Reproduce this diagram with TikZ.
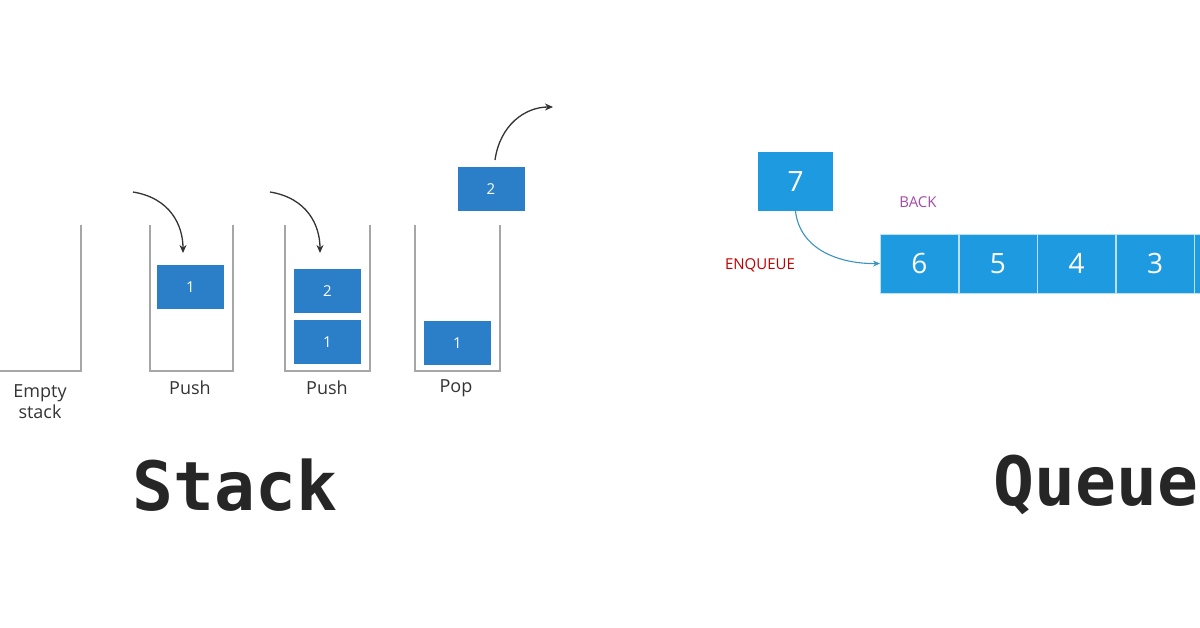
\documentclass[tikz,border=0pt]{standalone}
\usepackage{fontspec}
\setmainfont{Open Sans}
\newfontfamily\monof{DejaVu Sans Mono}
\usetikzlibrary{arrows.meta}
\begin{document}
\begin{tikzpicture}[x=1pt,y=-1pt,
 wall/.style={draw=gray!70,line width=1.5pt},
 sb/.style={fill=sbc,draw=none,minimum width=67pt,minimum height=44pt,text=white,font=\fontsize{15}{15}\selectfont,inner sep=0},
 qc/.style={fill=qbc,draw=white!70!qbc,line width=0.6pt,minimum width=78pt,minimum height=59pt,text=white,font=\fontsize{28}{28}\selectfont,inner sep=0,anchor=west},
 arr/.style={-{Stealth[length=8pt,width=7pt]},line width=1.3pt,black!80},
 lab/.style={font=\fontsize{18}{21}\selectfont,text=black!80,align=center}]
\definecolor{sbc}{HTML}{2B7FC9}
\definecolor{qbc}{HTML}{1E9BE0}
\useasboundingbox (0,0) rectangle (1200,628);
% stacks
\draw[wall] (0,371) -- (81,371) -- (81,225);
\draw[wall] (150,225) -- (150,371) -- (233,371) -- (233,225);
\draw[wall] (285,225) -- (285,371) -- (370,371) -- (370,225);
\draw[wall] (415,225) -- (415,371) -- (500,371) -- (500,225);
\node[sb] (a1) at (190.5,287) {1};
\node[sb] (b2) at (327.5,291.5) {2};
\node[sb] (b1) at (327.5,342.5) {1};
\node[sb] (c1) at (457.5,343.5) {1};
\node[sb] (c2) at (491,189) {2};
\coordinate (p1) at (133,192); \coordinate (p1e) at (183,253);
\coordinate (p2) at (270,192); \coordinate (p2e) at (320,253);
\coordinate (p3) at (495,160); \coordinate (p3e) at (553,107);
\draw[arr] (p1) .. controls (170,198) and (183,225) .. (p1e);
\draw[arr] (p2) .. controls (307,198) and (320,225) .. (p2e);
\draw[arr] (p3) .. controls (500,125) and (525,107) .. (p3e);
\node[lab] (l0) at (40,402) {Empty\\stack};
\node[lab] (l1) at (190,388) {Push};
\node[lab] (l2) at (327,388) {Push};
\node[lab] (l3) at (456,388) {Pop};
\node[font=\monof\bfseries\fontsize{68}{68}\selectfont,text=black!85] (st) at (235,485) {Stack};
% queue
\node[fill=qbc,minimum width=75pt,minimum height=59pt,text=white,font=\fontsize{28}{28}\selectfont,inner sep=0] (q7) at (795.5,181.5) {7};
\node[qc] (q6) at (880,263.5) {6};
\node[qc] (q5) at (q6.east) {5};
\node[qc] (q4) at (q5.east) {4};
\node[qc] (q3) at (q4.east) {3};
\node[qc] (q2) at (q3.east) {};
\node[font=\fontsize{15}{15}\selectfont,text=violet!70] (back) at (918,202) {BACK};
\node[font=\fontsize{15}{15}\selectfont,text=red!75!black] (enq) at (760,265) {ENQUEUE};
\draw[-{Stealth[length=7pt,width=6pt]},line width=1.1pt,qbc!70!gray] (q7.south) .. controls (800,250) and (840,264) .. (q6.west);
\node[font=\monof\bfseries\fontsize{68}{68}\selectfont,text=black!85,anchor=west] (qu) at (990,485) {Queue};
\end{tikzpicture}
\end{document}
